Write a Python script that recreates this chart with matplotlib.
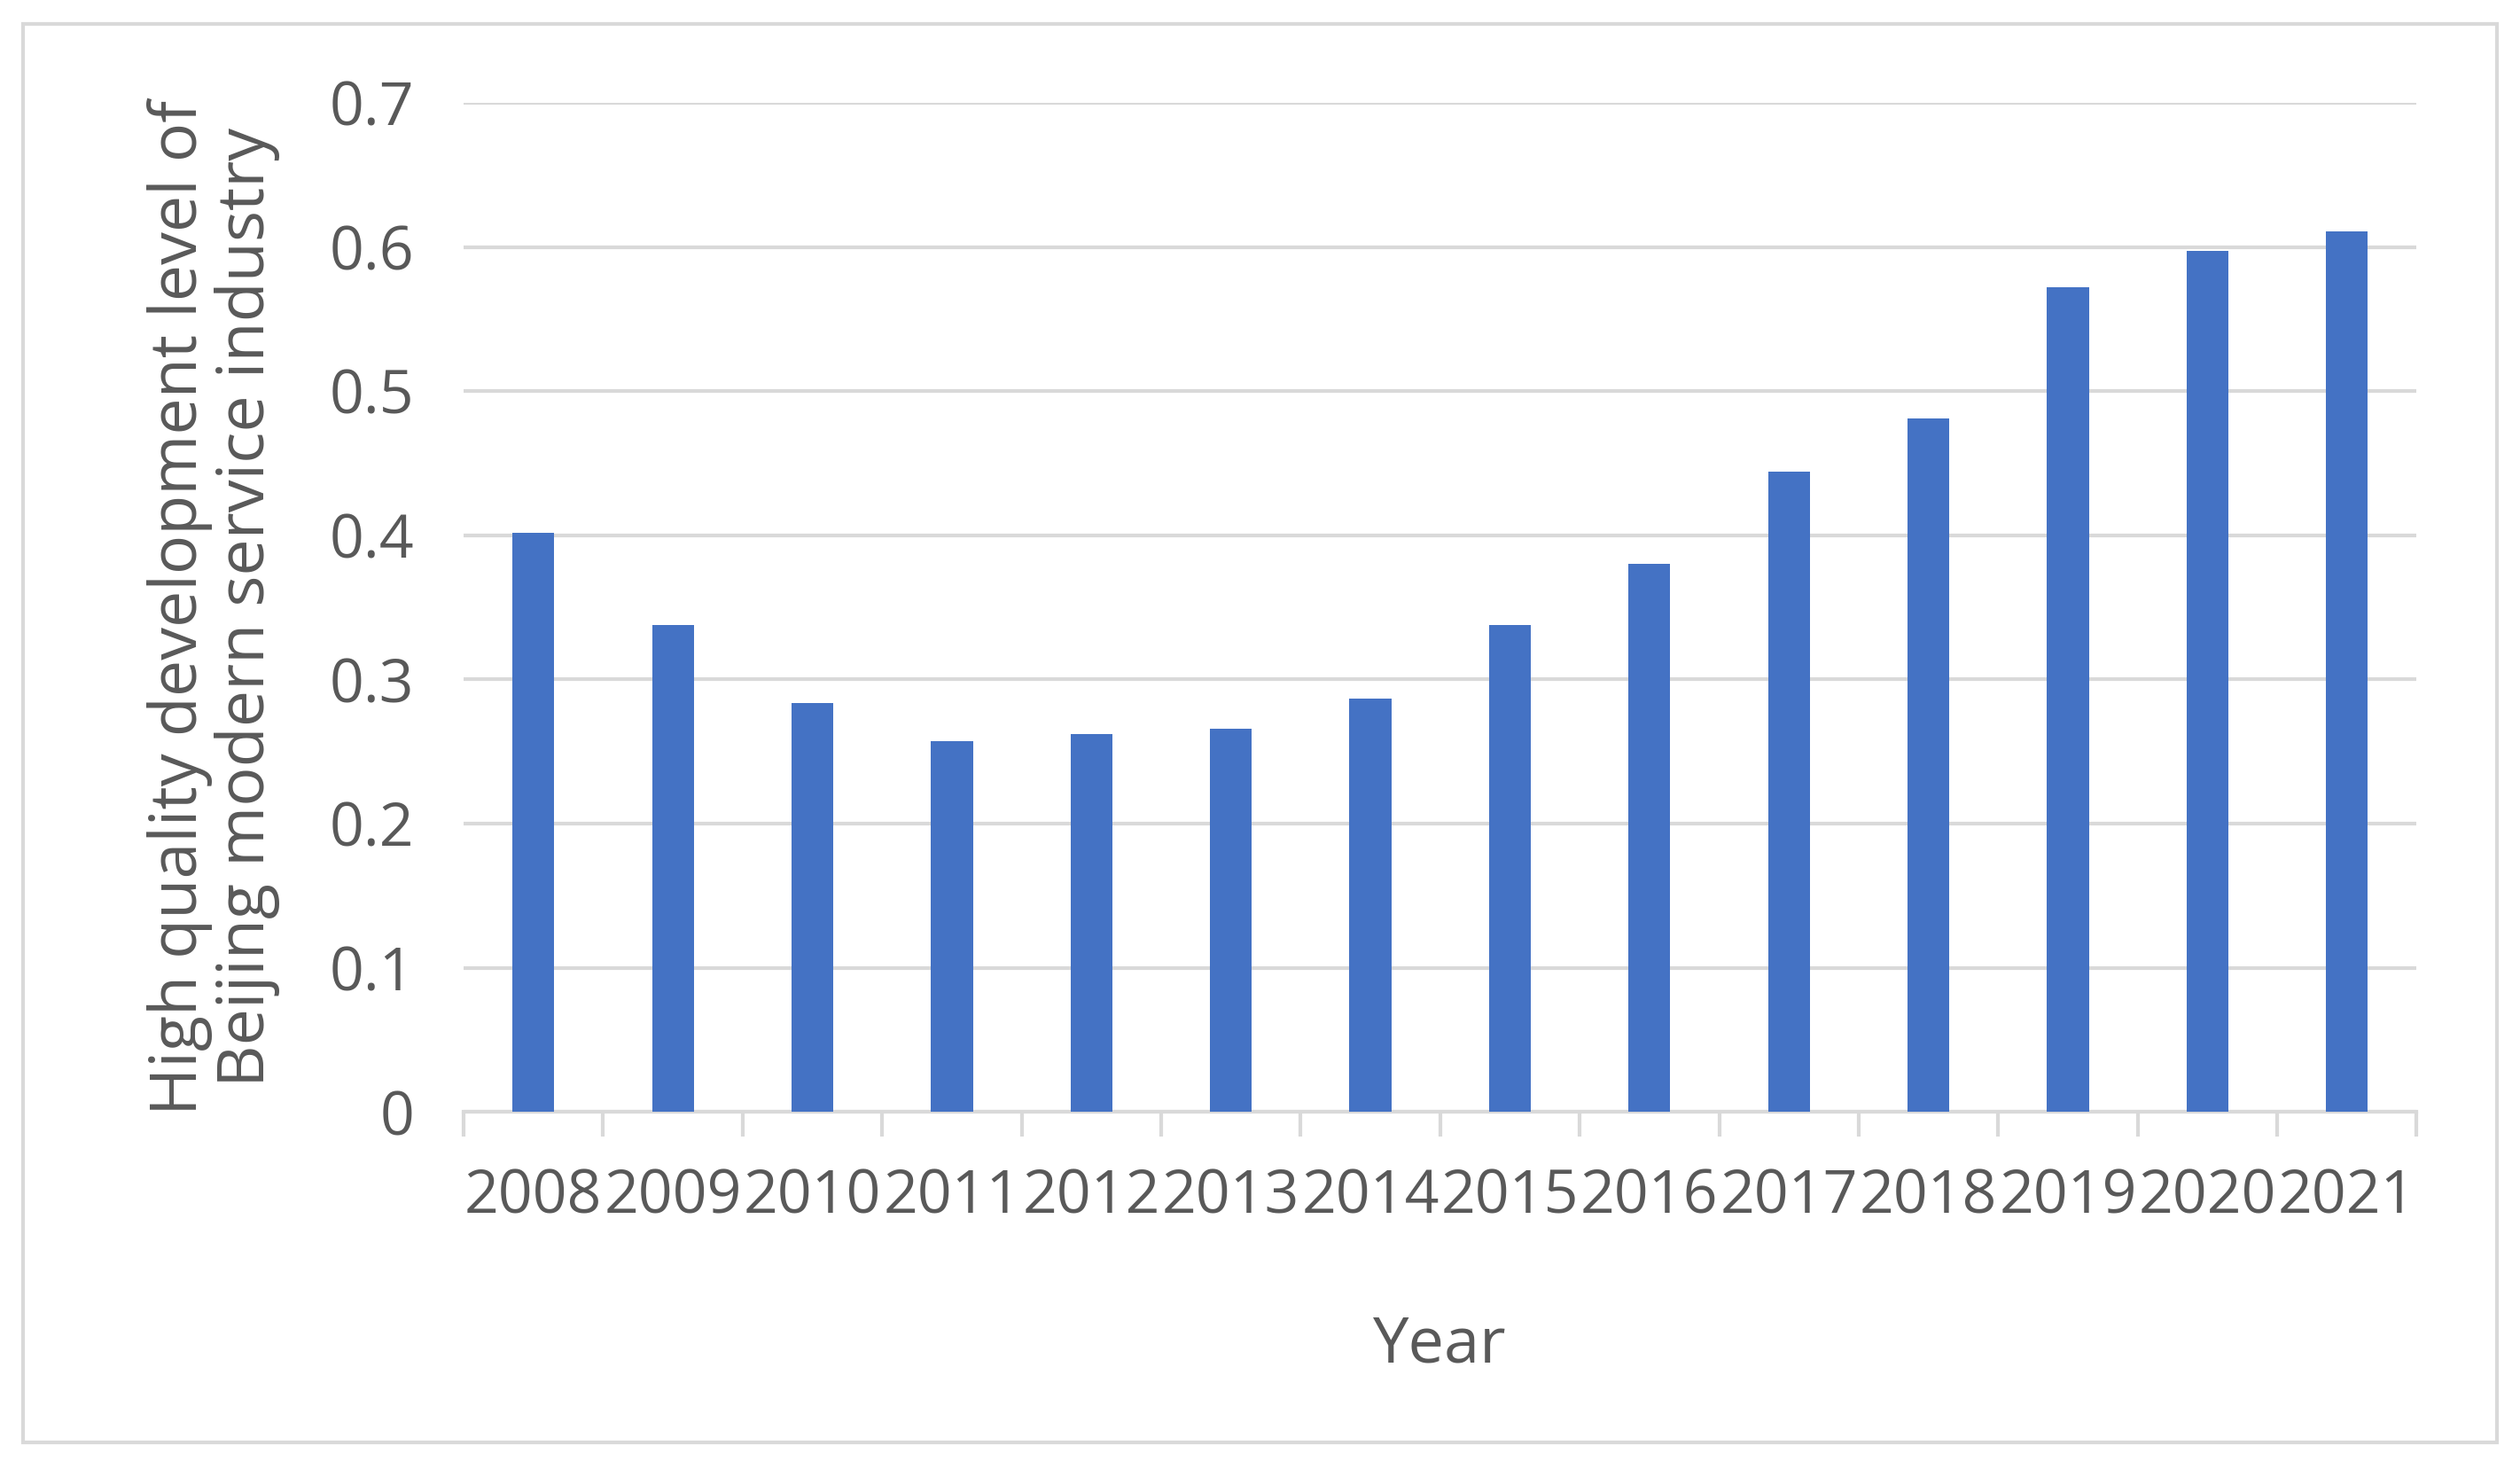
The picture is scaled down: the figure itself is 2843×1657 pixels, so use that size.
import matplotlib
matplotlib.use("Agg")
import matplotlib.pyplot as plt
import numpy as np

years = ['2008', '2009', '2010', '2011', '2012', '2013', '2014',
         '2015', '2016', '2017', '2018', '2019', '2020', '2021']
values = [0.402, 0.338, 0.284, 0.257, 0.262, 0.266, 0.287,
          0.338, 0.380, 0.444, 0.481, 0.572, 0.597, 0.611]

plt.rcParams['font.family'] = ['Open Sans', 'DejaVu Sans']
grey = '#595959'

fig = plt.figure(figsize=(28.43, 16.57), dpi=100)
# outer frame
fig.patches.append(plt.Rectangle((0.009, 0.018), 0.982, 0.966, transform=fig.transFigure,
                                 fill=False, edgecolor='#d9d9d9', linewidth=3))
ax = fig.add_axes([0.184, 0.243, 0.775, 0.687])

x = np.arange(len(years))
ax.bar(x, values, width=0.3, color='#4472c4', zorder=3)
ax.set_xlim(-0.5, len(years) - 0.5)
ax.set_ylim(0, 0.7)
ax.set_yticks(np.arange(0, 0.71, 0.1))
ax.set_yticklabels(['0', '0.1', '0.2', '0.3', '0.4', '0.5', '0.6', '0.7'])
ax.yaxis.grid(True, color='#d9d9d9', linewidth=3, zorder=0)
for s in ['top', 'right', 'left']:
    ax.spines[s].set_visible(False)
ax.spines['bottom'].set_color('#d9d9d9')
ax.spines['bottom'].set_linewidth(3)

ax.set_xticks(x)
ax.set_xticklabels(years)
ax.set_xticks(np.arange(-0.5, len(years)), minor=True)
ax.tick_params(axis='x', which='major', length=0, pad=45, labelsize=49, labelcolor=grey)
ax.tick_params(axis='x', which='minor', length=20, width=3, color='#d9d9d9')
ax.tick_params(axis='y', length=0, pad=40, labelsize=49, labelcolor=grey)

ax.set_xlabel('Year', fontsize=52, color=grey, labelpad=70)
ax.set_ylabel('High quality development level of\nBeijing modern service industry',
              fontsize=53, color=grey, labelpad=40, linespacing=1.05)

fig.savefig('out.png', dpi=100)
